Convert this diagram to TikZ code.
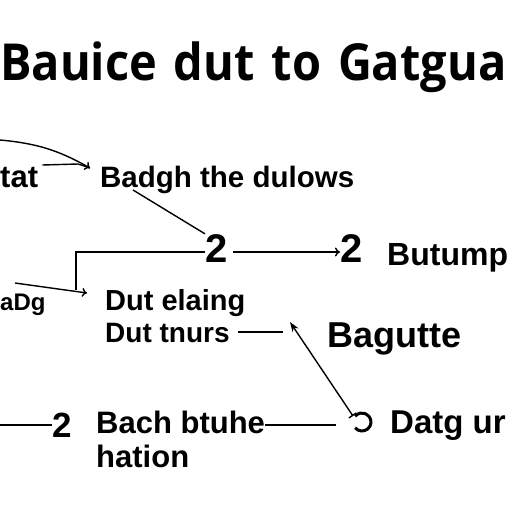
\documentclass[tikz,border=0pt]{standalone}
\usepackage{fontspec}
\setsansfont{Liberation Sans}
\newfontfamily\headfont{Open Sans}
\usetikzlibrary{arrows.meta}

\begin{document}
\begin{tikzpicture}[
      x=1pt, y=-1pt,
      every node/.style={font=\sffamily\bfseries, inner sep=0pt, anchor=base west},
      line/.style={line width=1.4pt},
      arrow/.style={line width=1.4pt,->,>={To[length=5pt,width=9pt]}},
      sharp/.style={line width=1.4pt,{Stealth[length=10pt,width=7pt]}-{Bar[width=9pt]}}
    ]
    \fill[white] (0,0) rectangle (512,512);
    \useasboundingbox (0,0) rectangle (512,512);

    % Title
    \node[xscale=0.92] (title) at (0,80) {\headfont\bfseries\fontsize{51}{60}\selectfont
      \spaceskip=0.36em Bauice dut to Gatgua};

    % Nodes for the labels
    \node (tat) at (0,187) {\fontsize{31}{34}\selectfont tat};
    \node (badgh) at (100,187) {\fontsize{29.5}{32}\selectfont Badgh the dulows};
    \node (twoA) at (205,262) {\fontsize{40}{44}\selectfont 2};
    \node (twoB) at (340,262) {\fontsize{40}{44}\selectfont 2};
    \node (butump) at (387,265) {\fontsize{32}{36}\selectfont Butump};
    \node (adg) at (0,310) {\fontsize{24}{28}\selectfont aDg};
    \node (dutA) at (105,310) {\fontsize{29}{32}\selectfont Dut elaing};
    \node (dutB) at (105,342) {\fontsize{28}{32}\selectfont Dut tnurs};
    \node (bagutte) at (327,347) {\fontsize{36}{40}\selectfont Bagutte};
    \node (twoC) at (52,437) {\fontsize{35}{40}\selectfont 2};
    \node (bach) at (96,433) {\fontsize{31}{34}\selectfont Bach btuhe};
    \node (hation) at (96,467) {\fontsize{31}{34}\selectfont hation};
    \node (datg) at (390,433) {\fontsize{33}{36}\selectfont Datg ur};

    % Free ends
    \coordinate (topin) at (0,140);
    \coordinate (tatin) at (90,168);
    \coordinate (elbow) at (76,290);
    \coordinate (dutin) at (87,293);
    \coordinate (tnurs) at (283,332);
    \coordinate (tip) at (290,322);
    \coordinate (leftin) at (0,425);
    \coordinate (ringin) at (336,425);
    \coordinate (ring) at (362,422);

    % Connectors
    \draw[arrow] (topin) to[bend left=12] (tatin);
    \draw[line] (tat.east |- 0,165) ++(4,0) -- (78,164) -- (tatin);
    \draw[line] (133,190) -- (twoA.north west);
    \draw[line] (twoA.west |- 0,252) -- (elbow |- 0,252) -- (elbow);
    \draw[arrow] (15,283) -- (dutin);
    \draw[arrow] (233,252) -- (twoB.west |- 0,252);
    \draw[line] (dutB.east |- 0,332) ++(8,0) -- (tnurs);
    \draw[sharp] (tip) -- (353,416);
    \draw[line] (leftin) -- (twoC.west |- 0,425);
    \draw[line] (bach.east |- 0,425) -- (ringin);
    \draw[line width=3pt] (ring) ++(140:9) arc (140:-140:9);

\end{tikzpicture}
\end{document}
